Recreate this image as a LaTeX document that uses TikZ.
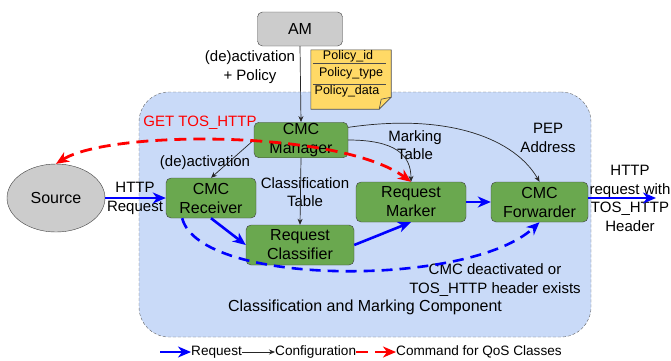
\documentclass[tikz,border=0pt]{standalone}
\usepackage{fontspec}
\setmainfont{Liberation Sans}
\definecolor{LightBlue}{HTML}{C9DAF8}
\definecolor{BoxGreen}{HTML}{6AA84F}
\definecolor{NoteYellow}{HTML}{FFD966}
\definecolor{LightGray}{HTML}{CCCCCC}
\definecolor{ReqBlue}{HTML}{0000FF}
\definecolor{CmdRed}{HTML}{FF0000}
\usetikzlibrary{arrows.meta,shapes.geometric,positioning,calc,backgrounds}

\begin{document}
\begin{tikzpicture}
[x=1pt,y=-1pt,
   block/.style={rectangle,rounded corners=5pt,draw=black!75,fill=BoxGreen,
   font=\fontsize{16}{19}\selectfont,align=center,minimum height=40pt,inner sep=1pt},
   lb/.style={font=\fontsize{15}{18.5}\selectfont,align=center,inner sep=0pt},
   lgd/.style={font=\fontsize{13.6}{16}\selectfont,inner sep=0pt,anchor=west},
   notetxt/.style={font=\fontsize{12.5}{14}\selectfont,inner sep=0pt},
   cfgedge/.style={->,>={Stealth[length=6pt,width=5pt]},black!85,line width=0.7pt},
   reqedge/.style={->,>={Stealth[length=13pt,width=11pt,inset=4pt]},ReqBlue,
   line width=2.6pt},
   cmdedge/.style={>={Stealth[length=13pt,width=11pt,inset=4pt]},CmdRed,
   line width=2.8pt,dash pattern=on 12pt off 7pt}]
\useasboundingbox (0,0) rectangle (671,360);

\begin{pgfonlayer}{background}
   \node[rectangle,rounded corners=30pt,draw=black!60,dash pattern=on 3pt off 2pt,
   fill=LightBlue,minimum width=452pt,minimum height=245pt] (cmc) at (365,214.5) {};
\end{pgfonlayer}
\node[lb,font=\fontsize{16}{19}\selectfont] (cmclabel) at (365,307)
{Classification and Marking Component};

\node[block,fill=LightGray,minimum width=85pt,minimum height=34pt] (am) at (300,29) {AM};
\node[block,minimum width=94pt,minimum height=34pt] (manager) at (301,140) {CMC\\Manager};
\node[block,minimum width=90pt] (receiver) at (211,198) {CMC\\Receiver};
\node[block,minimum width=108pt] (classifier) at (300,245) {Request\\Classifier};
\node[block,minimum width=110pt] (marker) at (411,202) {Request\\Marker};
\node[block,minimum width=97pt] (forwarder) at (539.5,202) {CMC\\Forwarder};
\node[ellipse,draw=black!75,fill=LightGray,minimum width=98pt,minimum height=68pt,
font=\fontsize{16}{19}\selectfont] (source) at (56,198) {Source};
\coordinate (out) at (656,198);

% policy note
\node[minimum width=80pt,minimum height=59pt,inner sep=0pt] (policy) at (351,79.5) {};
\filldraw[fill=NoteYellow,draw=black!70,line width=0.6pt] (policy.north west)
-- (policy.north east) -- ($(policy.south east)+(0,-12)$)
-- ($(policy.south east)+(-12,0)$) -- (policy.south west) -- cycle;
\draw[black!70,line width=0.6pt] ($(policy.south east)+(0,-12)$)
-- ($(policy.south east)+(-10,-10)$) -- ($(policy.south east)+(-12,0)$);
\draw[black!70] ($(policy.north west)+(2,13)$) -- ($(policy.north east)+(-5,13)$);
\draw[black!70] ($(policy.north west)+(2,34)$) -- ($(policy.north east)+(-5,34)$);
\node[notetxt] (pid) at (348,56) {Policy\_id};
\node[notetxt] (ptype) at (351,73) {Policy\_type};
\node[notetxt] (pdata) at (347,91) {Policy\_data};

\node[lb] (amlabel) at (250,67) {(de)activation\\+ Policy};
\node[lb] (actlabel) at (205,163) {(de)activation};
\node[lb] (clslabel) at (305,192) {Classification\\Table};
\node[lb] (mrklabel) at (415,145) {Marking\\Table};
\node[lb] (peplabel) at (548,138) {PEP\\Address};
\node[lb] (httplabel) at (135,198.5) {HTTP\\Request};
\node[lb] (outlabel) at (630,198.5) {HTTP\\request with\\TOS\_HTTP\\Header};
\node[lb] (skiplabel) at (495,280) {CMC deactivated or\\TOS\_HTTP header exists};
\node[lb,text=CmdRed] (getlabel) at (200,123) {GET TOS\_HTTP};

\draw[cfgedge] (am.south) -- (manager.north);
\draw[cfgedge] (manager.west) -- (receiver.north);
\draw[cfgedge] (manager.south) -- (classifier.north);
\draw[cfgedge] (manager.east) .. controls +(47,0) and +(0,-27) .. (marker.north);
\draw[cfgedge] (manager.15) .. controls +(102,-15) and +(-24,-42) .. (forwarder.north);

\draw[reqedge] (source) -- (receiver);
\draw[reqedge] (receiver.south) -- (classifier.west);
\draw[reqedge] (classifier.east) -- (marker.south);
\draw[reqedge] (marker) -- (forwarder);
\draw[reqedge] (forwarder.east |- out) -- (out);
\draw[reqedge,dash pattern=on 11pt off 7pt] (receiver.215) .. controls +(18,69)
and +(-69,65) .. (forwarder.south);

\draw[cmdedge,<->] (source.north) .. controls +(54,-34) and +(-71,-52) .. (marker.north);

\coordinate (lgstart) at (160,352);
\node[lgd] (lgreq) at (191,352) {Request};
\node[lgd] (lgcfg) at (275,352) {Configuration};
\node[lgd] (lgcmd) at (396,352) {Command for QoS Classes};
\draw[reqedge,line width=2pt] (lgstart) -- (lgreq.west);
\draw[cfgedge] (lgreq.east) -- (lgcfg.west);
\draw[cmdedge,->] (lgcfg.east) -- (lgcmd.west);
%%
\end{tikzpicture}
\end{document}
